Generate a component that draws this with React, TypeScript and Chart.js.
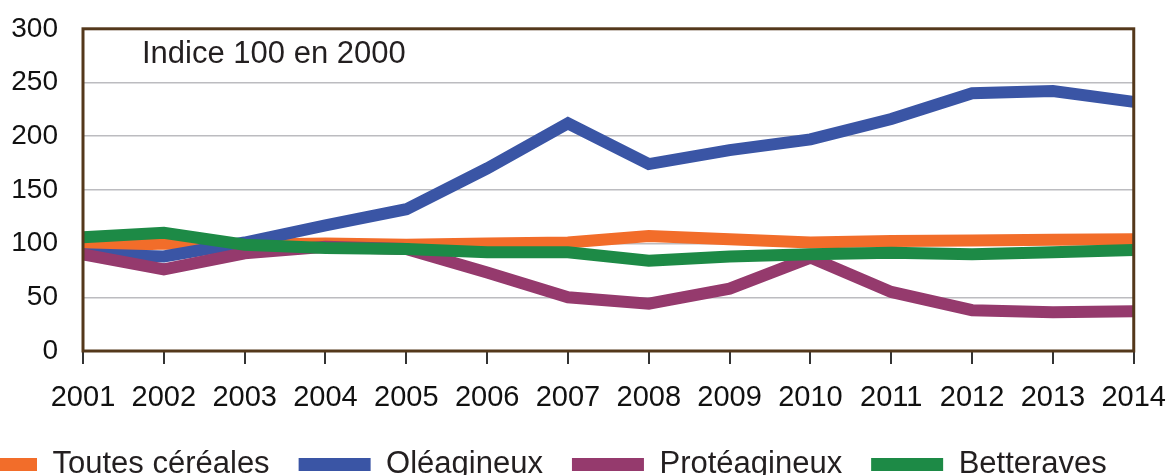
import React, { useEffect, useRef } from 'react';
import { Chart, registerables } from 'chart.js';

Chart.register(...registerables);

const years = ['2001', '2002', '2003', '2004', '2005', '2006', '2007', '2008', '2009', '2010', '2011', '2012', '2013', '2014'];
const cereales = [97, 100, 99, 100, 99, 100, 101, 107, 104, 101, 102.5, 103, 103.5, 104];
const oleagineux = [90, 88, 101, 117, 132, 170, 212, 174, 187, 197, 216, 240, 242, 232];
const proteagineux = [90, 76, 91, 97, 95, 73, 50, 44, 58, 87, 55, 38, 36, 37];
const betteraves = [106, 110, 99, 96, 95, 92, 92, 84, 88, 90, 91.5, 90, 92, 94];
const seriesNames = ['Toutes céréales', 'Oléagineux', 'Protéagineux', 'Betteraves'];
const seriesColors = ['#f26d2a', '#3a55a5', '#953a6d', '#1d8a46'];
const yMin = 0;
const yMax = 300;
const yStep = 50;
const annotation = 'Indice 100 en 2000';

const FONT = '"Liberation Sans", Arial, Helvetica, sans-serif';

export default function App() {
  const ref = useRef<HTMLCanvasElement>(null);

  useEffect(() => {
    if (!ref.current) return;

    const frame = {
      id: 'frame',
      afterDatasetsDraw(chart: any) {
        const { ctx, chartArea: a } = chart;
        ctx.save();
        ctx.strokeStyle = '#54381b';
        ctx.lineWidth = 3;
        ctx.strokeRect(a.left, a.top, a.right - a.left, a.bottom - a.top);
        ctx.restore();
      },
    };

    const note = {
      id: 'note',
      beforeDatasetsDraw(chart: any) {
        const { ctx, chartArea: a } = chart;
        ctx.save();
        ctx.font = `31px ${FONT}`;
        ctx.fillStyle = '#231f20';
        ctx.textAlign = 'left';
        ctx.textBaseline = 'alphabetic';
        ctx.fillText(annotation, a.left + 59, a.top + 34);
        ctx.restore();
      },
    };

    const allSeries = [cereales, oleagineux, proteagineux, betteraves];

    const chart = new Chart(ref.current, {
      type: 'line',
      data: {
        labels: years,
        datasets: allSeries.map((d, i) => ({
          label: seriesNames[i],
          data: d,
          borderColor: seriesColors[i],
          backgroundColor: seriesColors[i],
          borderWidth: 12,
          pointRadius: 0,
          pointHoverRadius: 0,
          tension: 0,
          fill: false,
          order: allSeries.length - i,
        })),
      },
      options: {
        responsive: false,
        animation: false,
        events: [],
        layout: { padding: { top: 0, left: 0, right: 0, bottom: 0 } },
        scales: {
          x: {
            type: 'category',
            offset: false,
            grid: {
              display: true,
              drawOnChartArea: false,
              drawTicks: true,
              tickLength: 13,
              color: '#333333',
              lineWidth: 2,
            },
            border: { display: false },
            ticks: {
              color: '#111111',
              font: { family: FONT, size: 29 },
              padding: 17,
              maxRotation: 0,
              autoSkip: false,
            },
            afterFit: (s: any) => {
              s.height = 69;
            },
          },
          y: {
            min: yMin,
            max: yMax,
            grid: {
              color: '#bcbcc0',
              lineWidth: 1.5,
              drawTicks: false,
            },
            border: { display: false },
            ticks: {
              stepSize: yStep,
              color: '#111111',
              font: { family: FONT, size: 28 },
              padding: 25,
            },
            afterFit: (s: any) => {
              s.width = 147;
            },
          },
        },
        plugins: {
          tooltip: { enabled: false },
          title: { display: false },
          legend: {
            display: true,
            position: 'bottom',
            align: 'start',
            labels: {
              boxWidth: 72,
              boxHeight: 13,
              padding: 29,
              color: '#231f20',
              font: { family: FONT, size: 31 },
              sort: (a: any, b: any) => a.datasetIndex - b.datasetIndex,
              generateLabels: (c: any) =>
                (Chart.defaults.plugins.legend.labels as any)
                  .generateLabels(c)
                  .map((l: any) => ({ ...l, lineWidth: 0 })),
            },
          },
        },
      },
      plugins: [frame, note],
    });

    return () => chart.destroy();
  }, []);

  return (
    <div style={{ position: 'absolute', left: 0, top: 0, width: 1170, height: 475, overflow: 'hidden', background: '#fff' }}>
      <canvas ref={ref} width={1247} height={503} style={{ position: 'absolute', left: -64, top: -13 }} />
    </div>
  );
}
